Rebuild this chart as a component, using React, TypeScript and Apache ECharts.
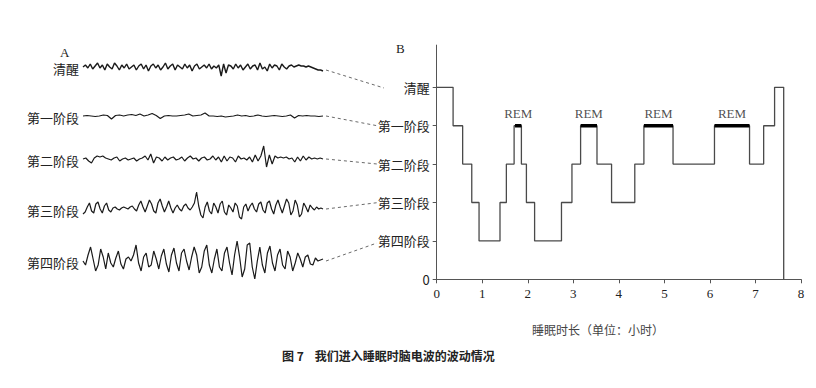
import React, { useEffect, useRef } from "react";
import * as echarts from "echarts";

// Hypnogram (panel B)
const stageNames = ["0", "第四阶段", "第三阶段", "第二阶段", "第一阶段", "清醒"];
const stageTimes = [0, 0.36, 0.57, 0.77, 0.93, 1.39, 1.53, 1.7, 1.86, 1.97, 2.15, 2.74, 2.97, 3.16, 3.52, 3.84, 4.35, 4.55, 5.19, 6.1, 6.87, 7.18, 7.42, 7.62, 7.62];
const stageLevels = [5, 4, 3, 2, 1, 2, 3, 4, 3, 2, 1, 2, 3, 4, 3, 2, 3, 4, 3, 4, 3, 4, 5, 5, 0];
const remStarts = [1.72, 3.16, 4.55, 6.1];
const remEnds = [1.86, 3.52, 5.19, 6.87];
const xTicks = [0, 1, 2, 3, 4, 5, 6, 7, 8];

// EEG traces (panel A), amplitude per sample
const waveAwake = [0, 2, -1, 3, -2, 1, 4, -1, 2, -3, 3, 0, -2, 4, 1, -3, 2, -1, 3, -2, 0, 2, -3, 1, 3, -2, 2, -4, 1, 3, -1, 2, -3, 0, 4, -2, 1, 3, -3, 2, 0, -2, 3, -1, 2, -4, 1, 3, -2, 0, 2, -1, 3, -2, 1, -1, 2, -9, 3, -6, 2, 1, -2, 3, -1, 2, -3, 0, 3, -2, 1, 2, -3, 4, -2, 0, -4, 3, -1, 2, 1, -3, 3, 0, -2, 1, 2, 0, 1, 2, 1, 1, 0, 1, 0, -1, -2, -3, -3, -4];
const waveStage1 = [0, 0.5, 0, -0.5, 0, 1, 0.5, -3, 0.5, 1, 0, 1, 1.5, 0.5, 2, 0, 1, 2.5, 0.5, -2.5, 0, 0.5, 0, 0, 0.5, 1, 2, 0, 0.5, 1, 3, 0, 0, -0.5, 0, -1, -0.5, 0, 1, 0, 0.5, -0.5, 0, 1, 0, -0.5, 0, 0.5, 0, -0.5, 0, 1, -2, 0.5, 0, 0.5, 0, 0, -0.5, 0];
const waveStage2 = [0, 1, -2, -4, 1, 3, 2, 3, 1, 0, -1, 1, 2, -2, 0, 1, -1, 0, 1, -2, 0, 1, 3, -1, 5, -4, 2, 1, -2, 2, -1, 1, 2, -1, 0, 2, -2, 1, 3, 0, 1, -2, 1, 2, -1, 0, 3, -1, 2, -3, 3, -2, 2, 1, -3, 3, 0, 1, -1, 2, -3, 4, -2, 3, 13, -8, 4, -5, 3, 1, 2, 1, 2, 0, 1, -3, 2, -2, 3, -1, 2, 0, 1, 0, 1, 0];
const waveStage3 = [-5, -3, 2, 6, -2, -4, 5, 7, 0, -4, 3, 6, -1, -3, 1, 2, 0, -1, 1, 2, 1, 0, 2, 3, 0, -2, 4, 8, 2, -3, 3, 9, 5, -2, -4, 6, 10, 3, -3, 2, 8, 1, -4, 1, 4, 0, -2, 3, 5, 1, -1, 2, 6, 17, 3, -6, -9, 2, 7, -2, -5, 6, 2, -4, 5, 8, -3, -6, 4, 1, -3, 6, 3, -8, -10, 2, 5, -2, 3, 6, 0, -3, 5, 7, -1, -4, 6, 8, 0, -5, 4, 9, 2, -4, 3, 10, 6, -6, -2, 9, 4, -8, -5, 6, 2, -3, 4, 1, -1, 2, 0, 1, 0];
const waveStage4 = [0, -4, 6, 14, 2, -10, -4, 12, 4, -8, 8, -2, -6, 3, 10, -3, -8, 2, 4, 0, 6, 16, -2, -10, 4, 8, -6, -4, 10, 2, -8, 5, 12, -3, -11, 6, 13, -2, -10, 8, 12, 0, -9, 4, 14, 6, -12, -6, 10, 16, -4, -12, 2, 12, -6, -10, 8, 14, -2, -14, 6, 20, 4, -16, -8, 16, 18, -6, -18, 0, 14, -4, -12, 8, 15, -2, -10, 6, 12, -4, -8, 10, 4, -10, -2, 8, 2, -6, 4, 6, -3, -4, 3, 0, 1, 2];

const waveList = [waveAwake, waveStage1, waveStage2, waveStage3, waveStage4];
const waveLabels = ["清醒", "第一阶段", "第二阶段", "第三阶段", "第四阶段"];

const CJK = '"Noto Sans CJK SC", "Noto Sans", sans-serif';
const SERIF = '"Liberation Serif", "DejaVu Serif", serif';

export default function App() {
  const ref = useRef<HTMLDivElement>(null);
  useEffect(() => {
    if (!ref.current) return;
    const chart = echarts.init(ref.current, null, { renderer: "svg" });

    const waveGrids = [
      { top: 55, height: 24 },
      { top: 104, height: 24 },
      { top: 145, height: 28 },
      { top: 189, height: 40 },
      { top: 236, height: 50 },
    ];

    const grids: any[] = [
      { left: 436.7, right: 15, top: 45.1, bottom: 108.7, containLabel: false, outerBoundsMode: "none" },
      ...waveGrids.map((g) => ({ left: 83, width: 240, top: g.top, height: g.height, containLabel: false, outerBoundsMode: "none" })),
    ];

    const xAxes: any[] = [
      {
        type: "value", gridIndex: 0, min: 0, max: 8, interval: 1,
        axisLine: { lineStyle: { color: "#555", width: 1 } },
        axisTick: { show: true, length: 4, lineStyle: { color: "#555" } },
        axisLabel: { color: "#222", fontFamily: SERIF, fontSize: 13, margin: 8, customValues: xTicks },
        splitLine: { show: false },
      },
      ...waveList.map((w, i) => ({ type: "value", gridIndex: i + 1, min: 0, max: w.length - 1, show: false })),
    ];

    const yAxes: any[] = [
      {
        type: "value", gridIndex: 0, min: 0, max: 6.1,
        axisLine: { show: true, lineStyle: { color: "#555", width: 1 } },
        axisTick: { show: true, length: 4, lineStyle: { color: "#555" }, customValues: [0, 1, 2, 3, 4, 5] },
        axisLabel: {
          color: "#222", fontSize: 13, margin: 7, customValues: [0, 1, 2, 3, 4, 5],
          formatter: (v: number) => stageNames[Math.round(v)] ?? "",
          fontFamily: CJK,
        },
        splitLine: { show: false },
      },
      ...waveGrids.map((g, i) => ({ type: "value", gridIndex: i + 1, min: -g.height / 2, max: g.height / 2, show: false })),
    ];

    const series: any[] = [
      {
        type: "line", xAxisIndex: 0, yAxisIndex: 0, step: "end", symbol: "none",
        data: stageTimes.map((t, i) => [t, stageLevels[i]]),
        lineStyle: { color: "#4a4a4a", width: 1.3 },
      },
      ...remStarts.map((s, i) => ({
        type: "line", xAxisIndex: 0, yAxisIndex: 0, symbol: "none",
        data: [[s, 4], [remEnds[i], 4]],
        lineStyle: { color: "#000", width: 3.5 },
      })),
      {
        type: "scatter", xAxisIndex: 0, yAxisIndex: 0, symbolSize: 0,
        data: remStarts.map((s, i) => [(s + remEnds[i]) / 2, 4]),
        label: { show: true, position: "top", distance: 6, formatter: "REM", color: "#222", fontFamily: SERIF, fontSize: 13 },
      },
      ...waveList.map((w, i) => ({
        type: "line", xAxisIndex: i + 1, yAxisIndex: i + 1, symbol: "none",
        data: w.map((v, j) => [j, v]),
        lineStyle: { color: "#1a1a1a", width: i === 0 ? 1.4 : 1.2 },
      })),
    ];

    const waveCenters = [67, 116, 159, 209, 261];
    const connectorEnds = [[384, 88], [377, 125.7], [377, 164], [377, 202.7], [377, 243]];

    const graphic: any[] = [
      { type: "text", left: 60, top: 46, style: { text: "A", font: `13px ${SERIF}`, fill: "#222" } },
      { type: "text", left: 396, top: 42, style: { text: "B", font: `13px ${SERIF}`, fill: "#222" } },
      ...waveLabels.map((t, i) => ({
        type: "text", x: 79, y: waveCenters[i] + 1,
        style: { text: t, font: `13px ${CJK}`, fill: "#222", align: "right", verticalAlign: "middle" },
      })),
      ...connectorEnds.map((e, i) => ({
        type: "line",
        shape: { x1: 326, y1: waveCenters[i] + (i === 0 ? 3 : 0), x2: e[0], y2: e[1] },
        style: { stroke: "#444", lineWidth: 0.8, lineDash: [3, 3] },
      })),
      { type: "text", x: 532, y: 329, style: { text: "睡眠时长（单位：小时）", font: `12px ${CJK}`, fill: "#444", verticalAlign: "middle" } },
      { type: "text", x: 282, y: 355, style: { text: "图 7    我们进入睡眠时脑电波的波动情况", font: `bold 12px ${CJK}`, fill: "#222", verticalAlign: "middle" } },
    ];

    chart.setOption({
      animation: false,
      backgroundColor: "#fff",
      grid: grids,
      xAxis: xAxes,
      yAxis: yAxes,
      series,
      graphic,
    });
    return () => chart.dispose();
  }, []);

  return <div ref={ref} style={{ width: 816, height: 388, position: "absolute", left: 0, top: 0 }} />;
}
